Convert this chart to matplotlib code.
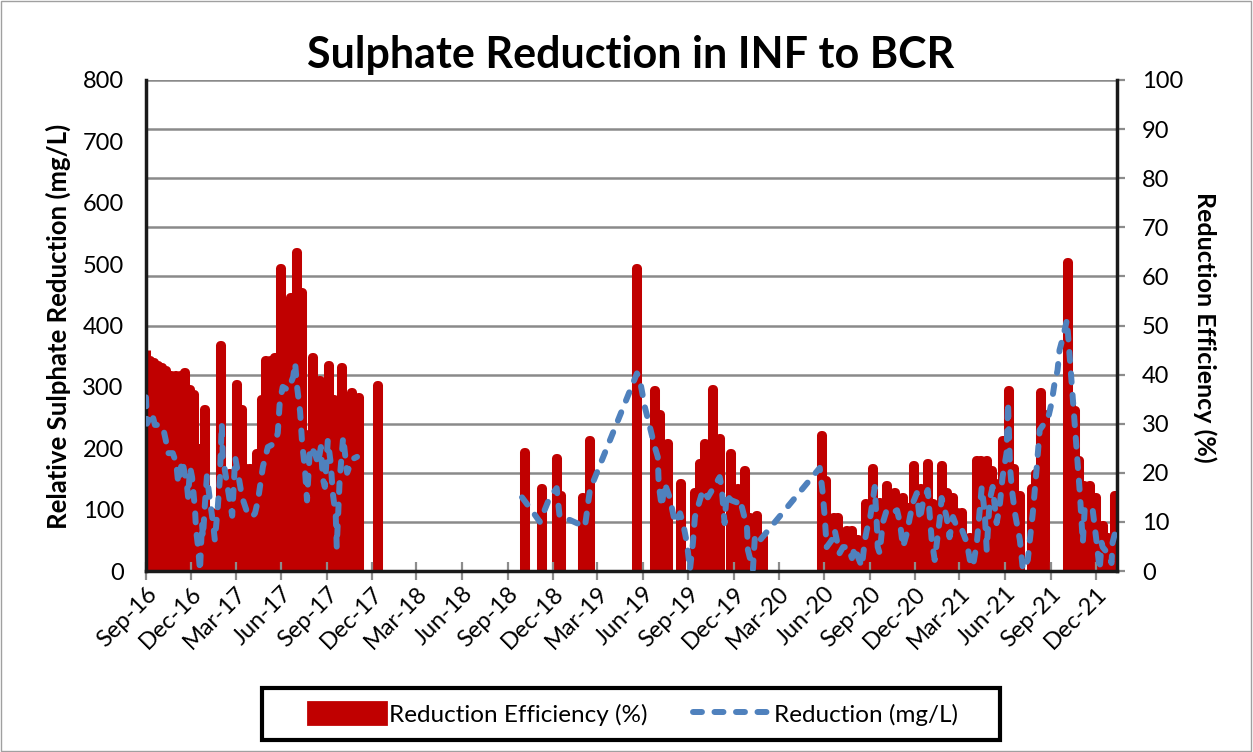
import numpy as np
import matplotlib
matplotlib.use("Agg")
import matplotlib.pyplot as plt
import matplotlib.dates as mdates
from matplotlib.patches import Patch, Rectangle
from matplotlib.lines import Line2D

plt.rcParams['font.family'] = ['Lato', 'DejaVu Sans']

NaN = float('nan')

# ---------------- data (days counted from 2016-09-01) ----------------
start_date = '2016-09-01'
end_day = 1960

title = "Sulphate Reduction in INF to BCR"
left_label = "Relative Sulphate Reduction (mg/L)"
right_label = "Reduction Efficiency (%)"
bar_label = "Reduction Efficiency (%)"
line_label = "Reduction (mg/L)"

# Reduction efficiency (%) - bars
bar_days = [0, 8, 16, 24, 32, 40, 50, 59, 69, 77, 87, 95, 107, 119, 133, 151, 168, 182, 192, 200,
            208, 216, 224, 234, 242, 252, 260, 272, 283, 291, 303, 313, 321, 337, 351, 369, 379, 394, 414, 428,
            468,
            765, 799, 829, 837, 882, 896, 991, 1027, 1037, 1053, 1078, 1108, 1118, 1128, 1144, 1158, 1179, 1193,
            1209, 1219, 1233, 1245,
            1364, 1372, 1388, 1396, 1413, 1425, 1437, 1453, 1467, 1481, 1495, 1511, 1528, 1538, 1550, 1564, 1578,
            1588, 1606, 1616, 1627, 1637, 1647, 1663, 1677, 1685, 1697, 1707, 1721, 1729, 1740, 1752, 1764, 1788,
            1796, 1806, 1814, 1861, 1867, 1875, 1883, 1893, 1905, 1917, 1931, 1941, 1955]
bar_eff = [45, 43, 42.5, 42, 41.5, 41, 40, 40, 40, 40.5, 37, 36, 25, 33, 12, 46, 20, 38, 33, 21,
           21, 21, 24, 35, 43, 43, 43.6, 61.7, 55, 55.8, 65, 56.8, 28, 43.6, 39, 42, 35, 41.5, 36.5, 35.4,
           37.9,
           24.3, 17, 23, 15.5, 15, 26.7, 61.7, 36.9, 32, 26, 18, 16, 22, 26, 37, 27, 24, 17,
           20.5, 11, 11.4, 7,
           27.7, 18.5, 11, 11, 8.3, 8.3, 6.5, 13.8, 21, 14, 17.5, 16, 15, 13, 21.6, 17, 22,
           13.8, 21.6, 16, 15, 12, 12, 7, 22.6, 22.6, 22.6, 20.5, 18, 26.7, 36.9, 21, 15.5, 17,
           20, 36.5, 32, 63, 34.5, 32.8, 22.6, 17.5, 17.5, 15, 9.4, 7, 15.5]

# Reduction (mg/L) - dashed line (NaN = no data, line broken)
line_days = [0, 2, 12, 18, 28, 34, 40, 44, 54, 61, 65, 73, 77, 83, 85, 89, 93, 99, 101, 105,
             109, 113, 115, 119, 123, 129, 135, 139, 145, 149, 153, 155, 165, 174, 180, 186, 194, 204, 214, 220,
             226, 236, 246, 260, 266, 270, 276, 287, 297, 301, 305, 311, 315, 321, 325, 331, 341, 347, 353, 357,
             361, 367, 373, 377, 383, 385, 391, 398, 406, 416, 426,
             600,
             759, 781, 795, 815, 829, 835, 856, 886, 896, 991, 997, 1007, 1017, 1027, 1033, 1035, 1041, 1047,
             1057, 1068, 1078, 1084, 1092, 1098, 1104, 1108, 1124, 1134, 1158, 1162, 1166, 1168, 1172, 1179,
             1195, 1199, 1213, 1215, 1225, 1229, 1235, 1360, 1366, 1370, 1374, 1384, 1390, 1400, 1407, 1417,
             1425, 1431, 1437, 1445, 1451, 1455, 1461, 1467, 1471, 1475, 1477, 1481, 1487, 1495, 1505, 1516,
             1522, 1528, 1536, 1542, 1548, 1556, 1562, 1568, 1578, 1586, 1592, 1602, 1606, 1616, 1622, 1629,
             1639, 1647, 1657, 1663, 1669, 1677, 1683, 1687, 1693, 1697, 1703, 1709, 1717, 1723, 1729, 1737,
             1740, 1744, 1748, 1754, 1764, 1770, 1780, 1784, 1790, 1798, 1804, 1814, 1820, 1828, 1834, 1840,
             1844, 1851, 1859, 1869, 1877, 1885, 1891, 1895, 1905, 1911, 1915, 1919, 1925, 1929, 1931, 1941,
             1949, 1951, 1959]
line_mgL = [283, 240, 257, 238, 238, 235, 213, 192, 192, 176, 143, 180, 164, 137, 120, 169, 153, 99, 67, 40,
            0, 78, 55, 110, 155, 115, 80, 50, 105, 150, 240, 185, 135, 90, 185, 158, 120, 96, 88, 94,
            115, 170, 202, 208, 225, 275, 300, 295, 316, 339, 300, 260, 210, 164, 115, 202, 192, 175, 202, 150,
            137, 213, 175, 127, 90, 39, 150, 218, 160, 182, 186,
            NaN,
            120, 96, 80, 120, 135, 88, 83, 72, 132, 322, 311, 267, 235, 202, 186, 140, 105, 143,
            120, 78, 94, 78, 45, 2, 46, 88, 132, 120, 153, 137, 95, 78, 127, 116,
            111, 116, 72, 34, 2, 55, 46, 168, 127, 88, 39, 50, 67, 29, 39, 39,
            21, 39, 23, 7, 50, 67, 83, 116, 137, 78, 39, 29, 78, 99, 94, 99,
            78, 39, 62, 88, 111, 127, 83, 111, 132, 50, 18, 83, 119, 88, 55, 88,
            67, 67, 46, 18, 7, 45, 99, 137, 94, 34, 116, 137, 78, 104, 153, 192,
            275, 169, 132, 94, 50, 2, 18, 50, 94, 169, 230, 241, 246, 274, 306, 327,
            360, 381, 409, 300, 215, 127, 46, 104, 99, 99, 72, 46, 2, 46, 39, 29,
            13, 46, 72]

# ---------------- figure ----------------
W, H = 1253, 752
fig = plt.figure(figsize=(W / 100, H / 100), dpi=100)
fig.patch.set_facecolor('white')

L, R, T, B = 146, 1117, 80, 571
ax1 = fig.add_axes([L / W, 1 - B / H, (R - L) / W, (B - T) / H])
ax2 = ax1.twinx()
ax1.set_zorder(2)
ax2.set_zorder(1)
ax1.patch.set_visible(False)

base = np.datetime64(start_date)
bar_dates = base + np.array(bar_days).astype('timedelta64[D]')
line_dates = base + np.array(line_days).astype('timedelta64[D]')

red = '#C00000'
blue = '#4F81BD'

bars = ax2.bar(bar_dates, bar_eff, width=2, color=red, edgecolor=red, linewidth=6.5, zorder=2)
for p in bars:
    p.set_joinstyle('round')

ax2.set_ylim(0, 100)
ax2.set_yticks(range(0, 101, 10))
ax2.grid(axis='y', color='#8a8a8a', linewidth=1.8)
ax2.set_axisbelow(True)

ax1.plot(line_dates, np.array(line_mgL, dtype=float), color=blue, lw=4.3,
         dashes=(1.5, 2.1), dash_capstyle='round', zorder=3)
ax1.set_ylim(0, 800)
ax1.set_yticks(range(0, 801, 100))
ax1.set_xlim(base, base + np.timedelta64(end_day, 'D'))

ax1.xaxis.set_major_locator(mdates.MonthLocator(bymonth=[3, 6, 9, 12]))
ax1.xaxis.set_major_formatter(mdates.DateFormatter('%b-%y'))

for s in ['top', 'right']:
    ax1.spines[s].set_visible(False)
for s in ['top', 'left', 'bottom']:
    ax2.spines[s].set_visible(False)
ax1.spines['left'].set_linewidth(2.5)
ax1.spines['bottom'].set_linewidth(2.5)
ax2.spines['right'].set_linewidth(2.5)
for sp in [ax1.spines['left'], ax1.spines['bottom'], ax2.spines['right']]:
    sp.set_color('#1a1a1a')

ax1.tick_params(axis='x', direction='inout', length=13, width=1.6, color='#8c8c8c',
                labelsize=17, pad=2)
for lab in ax1.get_xticklabels():
    lab.set_rotation(45)
    lab.set_ha('right')
    lab.set_rotation_mode('anchor')
ax1.tick_params(axis='y', length=0, labelsize=17, pad=16)
ax2.tick_params(axis='y', direction='out', length=6, width=1.6, color='#8c8c8c',
                labelsize=17, pad=12)

fig.text(631 / W, 1 - 55 / H, title, fontsize=31, fontweight='bold', ha='center', va='center')
fig.text(58 / W, 1 - 326 / H, left_label, fontsize=18.5, fontweight='bold',
         rotation=90, ha='center', va='center')
fig.text(1205 / W, 1 - 327 / H, right_label, fontsize=18, fontweight='bold',
         rotation=-90, ha='center', va='center')

handles = [Patch(facecolor=red, edgecolor=red, joinstyle='round', linewidth=2),
           Line2D([], [], color=blue, lw=4.3, dashes=(1.5, 2.1), dash_capstyle='round')]
fig.legend(handles, [bar_label, line_label], loc='center',
           bbox_to_anchor=(633 / W, 1 - 714 / H), ncol=2, frameon=False, fontsize=17.5,
           handlelength=3.2, handleheight=1.0, handletextpad=0.1, columnspacing=1.9)
fig.add_artist(Rectangle((262 / W, 1 - 740 / H), 738 / W, 52 / H, transform=fig.transFigure,
                         fill=False, edgecolor='black', linewidth=3))
fig.add_artist(Rectangle((0.0005, 0.001), 0.998, 0.998, transform=fig.transFigure,
                         fill=False, edgecolor='#a0a0a0', linewidth=1))

fig.savefig('out.png', dpi=100)
